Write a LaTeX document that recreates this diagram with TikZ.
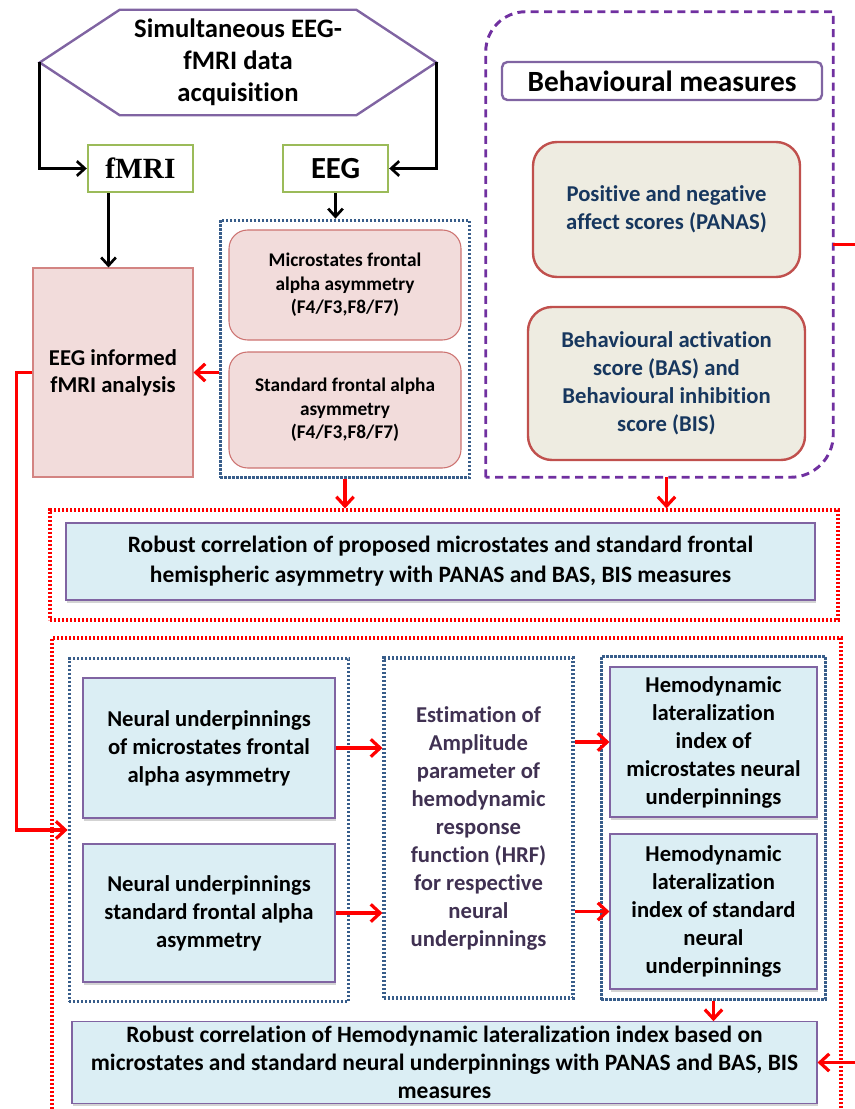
\documentclass[tikz,border=0pt]{standalone}
\usepackage{fontspec}
\setmainfont{Carlito}[Ligatures=NoCommon]
\newfontfamily\timesbf{Liberation Serif}
\usepackage{tikz}
\usetikzlibrary{arrows.meta, positioning, fit, shadows, calc}
\usepackage{xcolor}
\definecolor{hexpurple}{RGB}{128, 100, 162}
\definecolor{modgreen}{RGB}{155, 187, 89}
\definecolor{pinkfill}{RGB}{242, 220, 219}
\definecolor{pinkline}{RGB}{192, 80, 77}
\definecolor{dotblue}{RGB}{56, 93, 138}
\definecolor{behpurple}{RGB}{112, 48, 160}
\definecolor{tanfill}{RGB}{238, 236, 225}
\definecolor{navytext}{RGB}{23, 55, 94}
\definecolor{lightblue}{RGB}{219, 238, 244}
\definecolor{hrfpurple}{RGB}{64, 49, 82}
\definecolor{arrowred}{RGB}{255, 0, 0}
\tikzstyle{acqtext} = [rectangle, minimum width=297pt, minimum height=78.75pt, inner sep=0pt,
                       align=center, font=\fontsize{20}{24}\selectfont\bfseries]
\tikzstyle{hexline} = [draw=hexpurple, line width=1.8pt]
\tikzstyle{modbox} = [rectangle, draw=modgreen, line width=1.8pt, fill=white, minimum width=78.75pt,
                      minimum height=35.25pt, font=\fontsize{23}{27}\selectfont\bfseries]
\tikzstyle{pinkbox} = [rectangle, draw=pinkline!70, fill=pinkfill, line width=0.8pt, minimum width=120pt,
                       minimum height=156.75pt, align=center, font=\fontsize{17}{20}\selectfont\bfseries]
\tikzstyle{pinkround} = [rectangle, rounded corners=14pt, draw=pinkline!80, fill=pinkfill, line width=0.8pt,
                         minimum width=174pt, minimum height=82.5pt, align=center,
                         font=\fontsize{14.5}{17.5}\selectfont\bfseries]
\tikzstyle{bluedots} = [rectangle, draw=dotblue, line width=2.3pt, dash pattern=on 1.7pt off 1.3pt,
                        align=center]
\tikzstyle{reddots} = [rectangle, draw=arrowred, line width=2.3pt, dash pattern=on 1.7pt off 1.3pt]
\tikzstyle{behavline} = [draw=behpurple, line width=2.2pt, dash pattern=on 6pt off 4pt]
\tikzstyle{titlebox} = [rectangle, rounded corners=4pt, draw=hexpurple, line width=1.8pt, minimum width=240pt,
                        minimum height=28.5pt, font=\fontsize{22}{26}\selectfont\bfseries]
\tikzstyle{tanbox} = [rectangle, rounded corners=18pt, draw=pinkline, fill=tanfill, line width=1.8pt,
                      minimum width=200.25pt, minimum height=101.25pt, align=center, text=navytext,
                      font=\fontsize{17}{21}\selectfont\bfseries]
\tikzstyle{bluebox} = [rectangle, draw=hexpurple, fill=lightblue, line width=0.8pt, align=center,
                       font=\fontsize{17}{21}\selectfont\bfseries,
                       drop shadow={opacity=0.35, shadow xshift=1pt, shadow yshift=-2pt}]
\tikzstyle{blackarrow} = [-{Straight Barb[length=6pt, width=11pt]}, line width=2pt, black]
\tikzstyle{redarrow} = [-{Straight Barb[length=7pt, width=13pt]}, line width=2.4pt, arrowred]

\begin{document}
\begin{tikzpicture}[x=0.75pt, y=-0.75pt]
\useasboundingbox (0,0) rectangle (854,1109);

% Acquisition
\node[acqtext] (acq) at (238,62.5) {Simultaneous EEG-\\fMRI data\\acquisition};
\draw[hexline] (acq.west) -- ([xshift=60pt]acq.north west) -- ([xshift=-60pt]acq.north east)
    -- (acq.east) -- ([xshift=-60pt]acq.south east) -- ([xshift=60pt]acq.south west) -- cycle;

% Modalities
\node[modbox, font=\timesbf\fontsize{22}{26}\selectfont\bfseries] (fmri) at (140.5,168.5) {fMRI};
\node[modbox] (eeg) at (335.5,168.5) {EEG};

% EEG features
\node[pinkbox] (eeginf) at (113,372.5) {EEG informed\\fMRI analysis};
\node[pinkround] (micro) at (345,285) {Microstates frontal\\alpha asymmetry\\(F4/F3,F8/F7)};
\node[pinkround, minimum height=87pt] (stdasym) at (345,410) {Standard frontal alpha\\asymmetry\\(F4/F3,F8/F7)};
\node[bluedots, fit=(micro)(stdasym), inner xsep=6pt, inner ysep=7pt] (eegbox) {};

% Behavioural measures
\node[minimum width=260.25pt, minimum height=348.75pt, inner sep=0pt] (behav) at (659.5,244.5) {};
\draw[behavline] (behav.south west) -- ([yshift=-30pt]behav.north west)
    arc[start angle=180, end angle=90, radius=30pt] -- (behav.north east)
    -- ([yshift=32pt]behav.south east) arc[start angle=0, end angle=-90, radius=32pt] -- cycle;
\node[titlebox] (behtitle) at (662,81) {Behavioural measures};
\node[tanbox] (panas) at (666.5,209.5) {Positive and negative\\affect scores (PANAS)};
\node[tanbox, minimum width=207.75pt, minimum height=114.75pt] (bas) at (666.5,383.5)
    {Behavioural activation\\score (BAS) and\\Behavioural inhibition\\score (BIS)};

% Stage 1 correlation
\node[reddots, minimum width=591pt, minimum height=82.5pt] (stage1) at (444,565) {};
\node[bluebox, minimum width=561.75pt, minimum height=57.75pt, font=\fontsize{17.6}{22.5}\selectfont\bfseries]
    (corr1) at (440.5,561.5) {Robust correlation of proposed microstates and standard frontal\\hemispheric asymmetry with PANAS and BAS, BIS measures};

% Stage 2 hemodynamics
\node[reddots, minimum width=591.75pt, minimum height=357.75pt] (stage2) at (446.5,876.5) {};
\node[bluebox, minimum width=189pt, minimum height=105pt] (neur1) at (209,748)
    {Neural underpinnings\\of microstates frontal\\alpha asymmetry};
\node[bluebox, minimum width=189pt, minimum height=103.5pt] (neur2) at (209,913)
    {Neural underpinnings\\standard frontal alpha\\asymmetry};
\node[bluedots, fit=(neur1)(neur2), inner xsep=10pt, inner ysep=14pt] (nleft) {};
\node[bluedots, minimum width=141.75pt, minimum height=255pt, text=hrfpurple,
      font=\fontsize{17}{21}\selectfont\bfseries] (hrf) at (478.5,828)
    {Estimation of\\Amplitude\\parameter of\\hemodynamic\\response\\function (HRF)\\for respective\\neural\\underpinnings};
\node[bluebox, minimum width=155.25pt, minimum height=112.5pt] (hemo1) at (713.5,742)
    {Hemodynamic\\lateralization\\index of\\microstates neural\\underpinnings};
\node[bluebox, minimum width=155.25pt, minimum height=116.25pt] (hemo2) at (713.5,911.5)
    {Hemodynamic\\lateralization\\index of standard\\neural\\underpinnings};
\node[bluedots, fit=(hemo1)(hemo2), inner xsep=6pt, inner ysep=7.5pt] (nright) {};
\node[bluebox, minimum width=558.75pt, minimum height=60.75pt, font=\fontsize{17.6}{21}\selectfont\bfseries]
    (corr2) at (444.5,1062.5)
    {Robust correlation of Hemodynamic lateralization index based on\\microstates and standard neural underpinnings with PANAS and BAS, BIS\\measures};

% Arrows acquisition
\draw[blackarrow] (acq.west) |- (fmri.west);
\draw[blackarrow] (acq.east) |- (eeg.east);
\draw[blackarrow] ([xshift=-24pt]fmri.south) -- ([xshift=-24pt]fmri.south |- eeginf.north);
\draw[blackarrow] (eeg.south) -- (eeg.south |- eegbox.north);

% Arrows EEG features
\draw[redarrow] (eeginf.east -| eegbox.west) -- (eeginf.east);
\draw[redarrow] (eeginf.west) -- ++(-12pt,0) |- (nleft.west);
\draw[redarrow] (eegbox.south) -- (eegbox.south |- stage1.north);
\draw[redarrow] (panas.south |- behav.south) -- (panas.south |- stage1.north);

% Arrows hemodynamics
\draw[redarrow] (neur1.east) -- (neur1.east -| hrf.west);
\draw[redarrow] (neur2.east) -- (neur2.east -| hrf.west);
\draw[redarrow] (hrf.east |- hemo1.west) -- (hemo1.west);
\draw[redarrow] (hrf.east |- hemo2.west) -- (hemo2.west);
\draw[redarrow] (nright.south) -- (nright.south |- corr2.north);

% Behavioural link to final correlation
\coordinate (rbend) at (858,1062.5);
\draw[redarrow] (behav.east) -| (rbend) -- (corr2.east);

\end{tikzpicture}
\end{document}
